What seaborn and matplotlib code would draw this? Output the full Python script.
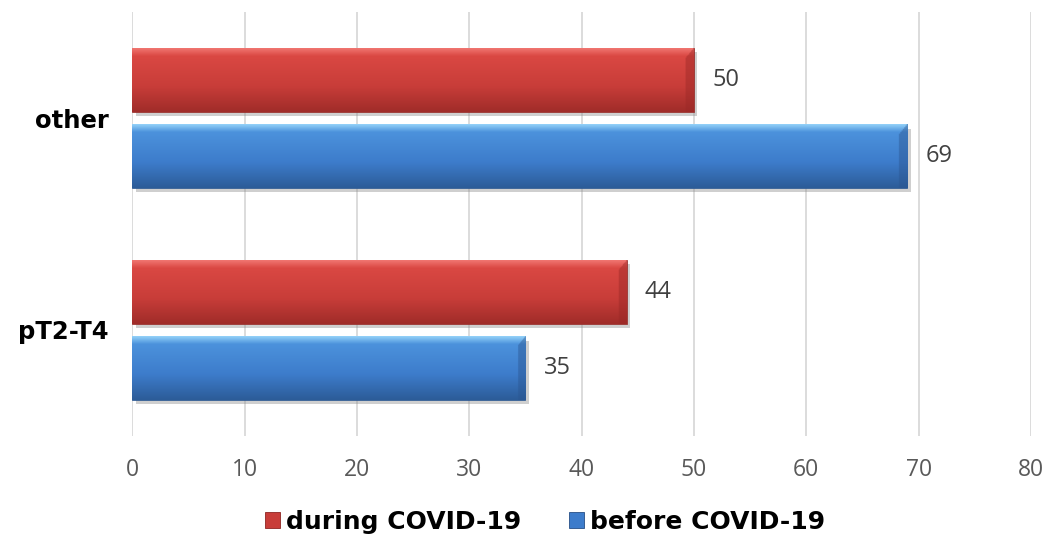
import numpy as np
import pandas as pd
import matplotlib
matplotlib.use("Agg")
import matplotlib.pyplot as plt
import matplotlib.patheffects as pe
from matplotlib.patches import Patch
from matplotlib.colors import to_rgb
import seaborn as sns

# ---- data ----
categories = ["other", "pT2-T4"]
series_names = ["during COVID-19", "before COVID-19"]
during_values = [50, 44]
before_values = [69, 35]
x_ticks = [0, 10, 20, 30, 40, 50, 60, 70, 80]

df = pd.DataFrame({
    "category": categories * 2,
    "period": [series_names[0]] * len(categories) + [series_names[1]] * len(categories),
    "value": during_values + before_values,
})

RED = "#C83D39"
BLUE = "#3D7CCB"
grad_stops = {
    RED: ["#F07570", "#DA4843", "#C83D39", "#A02C29"],
    BLUE: ["#92D0F8", "#4C92DC", "#3D7CCB", "#2C5C98"],
}
bevel_dark = {RED: "#9A2826", BLUE: "#2A5590"}
edge_col = {RED: "#8E2522", BLUE: "#264F86"}

sns.set_theme(style="white")
plt.rcParams["font.family"] = ["Open Sans", "DejaVu Sans"]
plt.rcParams["text.color"] = "black"

fig = plt.figure(figsize=(10.46, 5.38), dpi=100)
ax = fig.add_axes([132.3 / 1046, 1 - 436 / 538, (1031 - 132.3) / 1046, (436 - 12) / 538])

sns.barplot(data=df, y="category", x="value", hue="period", hue_order=series_names,
            order=categories, orient="h", width=0.72, gap=0.17,
            palette=[RED, BLUE], legend=False, ax=ax, saturation=1)

ax.set_xlim(0, 80)
ax.set_ylim(1.5, -0.5)


def gradient_image(base, ny=80, nx=600, width_units=1.0, bevel_units=0.7):
    stops = [np.array(to_rgb(c)) for c in grad_stops[base]]
    pos = [0.0, 0.12, 0.6, 1.0]
    t = np.linspace(0, 1, ny)
    col = np.zeros((ny, 3))
    for ch in range(3):
        col[:, ch] = np.interp(t, pos, [s[ch] for s in stops])
    img = np.repeat(col[:, None, :], nx, axis=1)
    xs = np.linspace(0, width_units, nx)
    dark = np.array(to_rgb(bevel_dark[base]))
    # diagonal bevel at the right end: starts lower near the top edge
    X, T = np.meshgrid(xs, t)
    edge_start = width_units - bevel_units * np.clip(T / 0.15, 0, 1)
    mask = (X >= edge_start).astype(float) * 0.45
    img = img * (1 - mask[:, :, None]) + dark[None, None, :] * mask[:, :, None]
    return img


colors_by_container = [RED, BLUE]
for container, base in zip(ax.containers, colors_by_container):
    for bar in container:
        x0, y0 = bar.get_x(), bar.get_y()
        w, h = bar.get_width(), bar.get_height()
        bar.set_edgecolor(edge_col[base])
        bar.set_linewidth(0.5)
        bar.set_zorder(2)
        bar.set_path_effects([pe.SimplePatchShadow(offset=(2.5, -3), shadow_rgbFace="#888888", alpha=0.4),
                              pe.Normal()])
        img = gradient_image(base, width_units=w)
        im = ax.imshow(img, extent=(x0, x0 + w, y0 + h, y0), aspect="auto",
                       interpolation="bilinear", zorder=2.5, origin="upper")
        im.set_clip_path(bar)
    ax.bar_label(container, labels=[f"{v:g}" for v in container.datavalues],
                 padding=13, fontsize=17, color="#404040", family=["Open Sans", "DejaVu Sans"])

ax.set_xlim(0, 80)
ax.set_ylim(1.5, -0.5)

ax.set_xticks(x_ticks)
ax.set_xticklabels([str(v) for v in x_ticks])
ax.tick_params(axis="x", length=0, pad=16, labelsize=16.5, labelcolor="#595959")
ax.tick_params(axis="y", length=0, pad=17)
for lab in ax.get_yticklabels():
    lab.set_fontfamily("DejaVu Sans")
    lab.set_fontweight("bold")
    lab.set_fontsize(17.5)
    lab.set_color("black")

ax.set_xlabel("")
ax.set_ylabel("")
ax.grid(axis="x", color="#D9D9D9", linewidth=1.3)
ax.grid(axis="y", visible=False)
ax.set_axisbelow(True)
for s in ax.spines.values():
    s.set_visible(False)

handles = [Patch(facecolor=RED, edgecolor=edge_col[RED], linewidth=0.6),
           Patch(facecolor=BLUE, edgecolor=edge_col[BLUE], linewidth=0.6)]
leg = fig.legend(handles, series_names, loc="center", bbox_to_anchor=(545 / 1046, 1 - 522 / 538),
                 ncol=2, frameon=False, handlelength=0.6, handleheight=0.6, handletextpad=0.25,
                 columnspacing=1.9, prop={"family": "DejaVu Sans", "weight": "bold", "size": 18})
for t in leg.get_texts():
    t.set_color("black")

fig.savefig("out.png", dpi=100)
